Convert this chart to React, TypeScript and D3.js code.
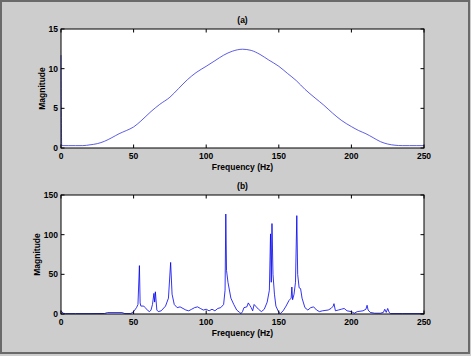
import React from "react";
import * as d3 from "d3";

// (a) smooth window spectrum
const freqA = [0, 0.5, 5, 10, 15, 20, 25, 30, 35, 40, 45, 50, 55, 62, 68, 75, 81, 87, 93, 100, 106, 112, 118, 125, 131, 137, 143, 150, 156, 162, 168, 175, 181, 187, 193, 200, 205, 210, 215, 220, 225, 230, 235, 240, 245, 250];
const magA = [11.7, 0.3, 0.3, 0.3, 0.3, 0.4, 0.55, 0.85, 1.3, 1.8, 2.2, 2.65, 3.4, 4.6, 5.5, 6.4, 7.5, 8.6, 9.5, 10.3, 11.0, 11.7, 12.2, 12.45, 12.3, 11.8, 11.1, 10.3, 9.4, 8.5, 7.4, 6.3, 5.4, 4.4, 3.5, 2.7, 2.2, 1.8, 1.3, 0.8, 0.5, 0.35, 0.3, 0.3, 0.3, 0.3];

// (b) measured spectrum
const freqB = [0, 0.5, 1.5, 3, 10, 20, 30, 32, 42, 44, 48, 50, 52, 53, 54, 54.5, 55, 57, 58, 60, 61, 62, 63, 64, 64.5, 65, 66, 67, 69, 72, 74, 75.5, 76.5, 78, 80, 82, 84, 86, 88, 90, 92, 94, 96, 98, 100, 102, 104, 106, 108, 110, 112, 113, 113.5, 114, 115, 117, 119, 121, 123, 124, 125, 126, 128, 129, 130, 131, 132, 133, 134, 136, 138, 140, 142, 143.5, 144.3, 144.8, 145.3, 146, 147, 148, 150, 151, 153, 155, 157, 158.5, 159, 159.5, 160.5, 161.5, 162.4, 163, 164, 165, 166, 168, 170, 172, 174, 176, 178, 180, 184, 186, 187.5, 188, 189, 191, 193, 195, 197, 200, 202, 204, 208, 210, 210.8, 211.5, 213, 216, 220, 222, 223, 224, 225, 226, 227, 235, 250];
const magB = [4, 3, 1, 0.5, 0.5, 0.5, 0.6, 1.8, 1.8, 0.5, 0.5, 3, 8, 12, 61, 14, 10, 10, 8, 4, 3, 5, 12, 26, 15, 28, 5, 3, 4, 10, 20, 65, 25, 12, 8, 9, 7, 5, 4, 6, 8, 9, 7, 5, 6, 4, 6, 4, 7, 8, 12, 30, 126, 55, 40, 20, 12, 5, 2, 0.5, 3, 8, 9, 14, 11, 8, 4, 12, 10, 6, 3, 6, 15, 30, 101, 40, 114, 50, 25, 10, 2, 0.5, 4, 10, 17, 20, 34, 18, 25, 40, 124, 50, 33, 32, 20, 8, 5, 8, 9, 5, 3, 4, 5, 7, 10, 13, 4, 5, 6, 7, 4, 3, 1, 3, 4, 6, 11, 5, 2, 1, 1, 2, 6, 2, 7, 2, 0.5, 0.5, 0.5];

const xTicks = [0, 50, 100, 150, 200, 250];
const yTicksA = [0, 5, 10, 15];
const yTicksB = [0, 50, 100, 150];

const W = 471;
const H = 356;
const left = 61;
const right = 424;
const font = "'Liberation Sans', Arial, sans-serif";

function Panel({ title, top, bottom, xs, ys, yMax, yTicks, labelX, curve, stroke }: any) {
  const x = d3.scaleLinear().domain([0, 250]).range([left, right]);
  const y = d3.scaleLinear().domain([0, yMax]).range([bottom, top]);
  const line = d3
    .line<number>()
    .x((d, i) => x(xs[i]))
    .y((d) => y(d))
    .curve(curve);
  return (
    <g fontFamily={font} fontWeight="bold" fontSize="8.5" fill="#000">
      <rect x={left} y={top} width={right - left} height={bottom - top} fill="#fff" />
      <path d={line(ys) || ""} fill="none" stroke={stroke} strokeWidth="0.8" />
      <rect x={left} y={top} width={right - left} height={bottom - top} fill="none" stroke="#000" strokeWidth="1" />
      {xTicks.map((t) => (
        <g key={"x" + t}>
          <line x1={x(t)} x2={x(t)} y1={bottom} y2={bottom - 3.5} stroke="#000" />
          <line x1={x(t)} x2={x(t)} y1={top} y2={top + 3.5} stroke="#000" />
          <text x={x(t)} y={bottom + 11} textAnchor="middle">{t}</text>
        </g>
      ))}
      {yTicks.map((t: number) => (
        <g key={"y" + t}>
          <line x1={left} x2={left + 3.5} y1={y(t)} y2={y(t)} stroke="#000" />
          <line x1={right} x2={right - 3.5} y1={y(t)} y2={y(t)} stroke="#000" />
          <text x={left - 3} y={y(t) + 3} textAnchor="end">{t}</text>
        </g>
      ))}
      <text x={(left + right) / 2} y={top - 6} textAnchor="middle">{title}</text>
      <text x={(left + right) / 2} y={bottom + 22} textAnchor="middle">Frequency (Hz)</text>
      <text
        transform={`translate(${labelX},${(top + bottom) / 2}) rotate(-90)`}
        textAnchor="middle"
      >
        Magnitude
      </text>
    </g>
  );
}

export default function App() {
  return (
    <svg
      width={W}
      height={H}
      style={{ position: "absolute", left: 0, top: 0, display: "block" }}
    >
      <rect x={0} y={0} width={W} height={H} fill="#cdcdcd" />
      <rect x={1} y={1} width={468} height={352} fill="none" stroke="#6a6a6a" strokeWidth="2" />
      <Panel title="(a)" top={29} bottom={148} xs={freqA} ys={magA} yMax={15} yTicks={yTicksA} labelX={45} curve={d3.curveMonotoneX} stroke="#3333dd" />
      <Panel title="(b)" top={195} bottom={314} xs={freqB} ys={magB} yMax={150} yTicks={yTicksB} labelX={40} curve={d3.curveLinear} stroke="#0000ee" />
    </svg>
  );
}
